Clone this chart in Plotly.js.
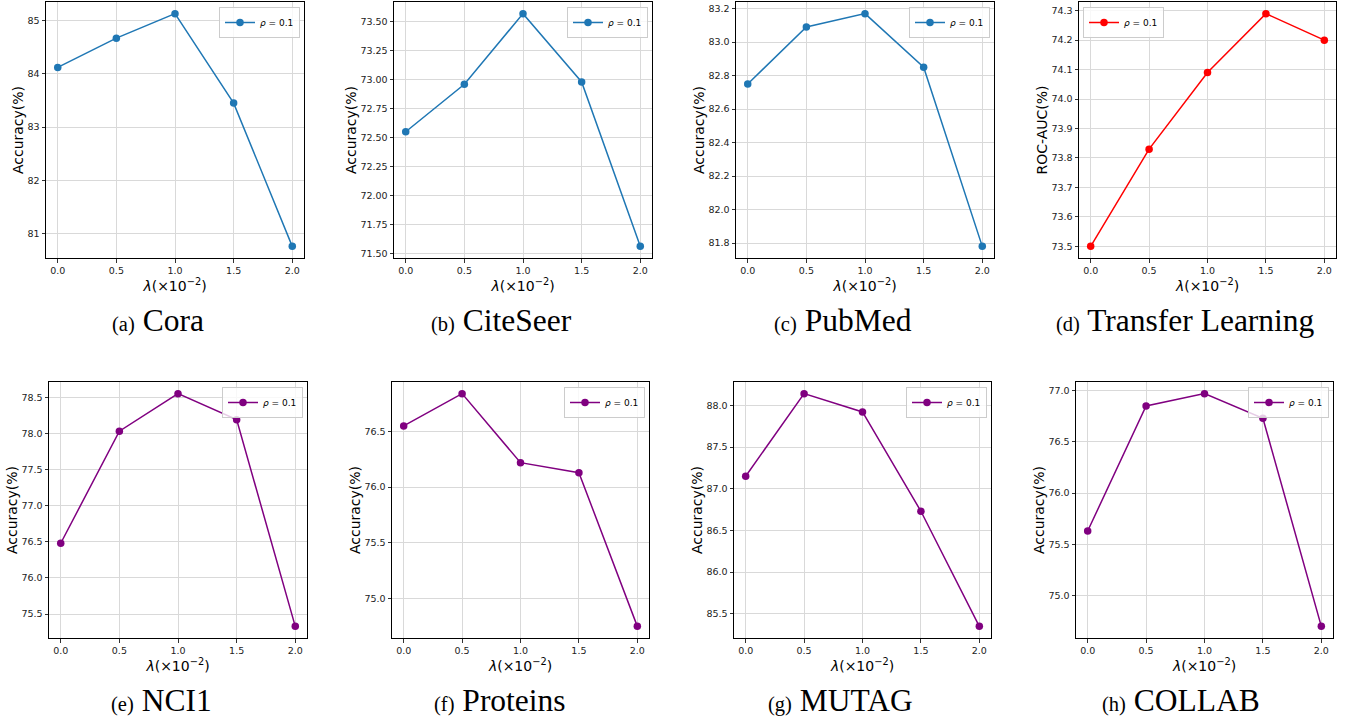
<!DOCTYPE html>
<html>
<head>
<meta charset="utf-8">
<script src="https://cdn.plot.ly/plotly-3.0.1.min.js"></script>
<style>html,body{margin:0;padding:0;background:#fff;}#chart{width:1347px;height:719px;}</style>
</head>
<body>
<div id="chart"></div>
<script>
// ---- data ----
const lambdaValues = [0.0, 0.5, 1.0, 1.5, 2.0];
const coraAcc      = [84.12, 84.67, 85.13, 83.45, 80.76];
const citeseerAcc  = [72.55, 72.96, 73.57, 72.98, 71.56];
const pubmedAcc    = [82.75, 83.09, 83.17, 82.85, 81.78];
const transferAuc  = [73.50, 73.83, 74.09, 74.29, 74.20];
const nci1Acc      = [76.48, 78.03, 78.55, 78.19, 75.33];
const proteinsAcc  = [76.55, 76.84, 76.22, 76.13, 74.75];
const mutagAcc     = [87.15, 88.14, 87.92, 86.73, 85.35];
const collabAcc    = [75.63, 76.85, 76.97, 76.73, 74.70];
const panelNames   = ["Cora", "CiteSeer", "PubMed", "Transfer Learning", "NCI1", "Proteins", "MUTAG", "COLLAB"];
const panelLetters = ["(a)", "(b)", "(c)", "(d)", "(e)", "(f)", "(g)", "(h)"];
const yLabels      = ["Accuracy(%)", "Accuracy(%)", "Accuracy(%)", "ROC-AUC(%)", "Accuracy(%)", "Accuracy(%)", "Accuracy(%)", "Accuracy(%)"];
const seriesName   = "<i>ρ</i> = 0.1";
const xTickVals    = [0.0, 0.5, 1.0, 1.5, 2.0];
const xTickText    = ["0.0", "0.5", "1.0", "1.5", "2.0"];
const yTicks = [
  {vals: [81, 82, 83, 84, 85], fmt: ".0f"},
  {vals: [71.5, 71.75, 72.0, 72.25, 72.5, 72.75, 73.0, 73.25, 73.5], fmt: ".2f"},
  {vals: [81.8, 82.0, 82.2, 82.4, 82.6, 82.8, 83.0, 83.2], fmt: ".1f"},
  {vals: [73.5, 73.6, 73.7, 73.8, 73.9, 74.0, 74.1, 74.2, 74.3], fmt: ".1f"},
  {vals: [75.5, 76.0, 76.5, 77.0, 77.5, 78.0, 78.5], fmt: ".1f"},
  {vals: [75.0, 75.5, 76.0, 76.5], fmt: ".1f"},
  {vals: [85.5, 86.0, 86.5, 87.0, 87.5, 88.0], fmt: ".1f"},
  {vals: [75.0, 75.5, 76.0, 76.5, 77.0], fmt: ".1f"}
];
const allSeries = [coraAcc, citeseerAcc, pubmedAcc, transferAuc, nci1Acc, proteinsAcc, mutagAcc, collabAcc];
const colors = ["#1f77b4", "#1f77b4", "#1f77b4", "#ff0000", "#800080", "#800080", "#800080", "#800080"];

// ---- layout geometry (pixels) ----
const W = 1347, H = 719;
const boxes = [
  [46, 304, 2, 258], [394, 652, 2, 258], [736, 994, 2, 258], [1079, 1336, 2, 258],
  [49, 307, 382, 638], [392, 649, 382, 638], [734, 991, 382, 638], [1076, 1333, 382, 638]
];
const captionX = [158, 501, 843, 1185, 161, 500, 840, 1181];
const captionY = [320, 320, 320, 320, 700, 700, 700, 700];

const traces = [];
const layout = {
  width: W, height: H,
  margin: {l: 0, r: 0, t: 0, b: 0},
  paper_bgcolor: "#fff", plot_bgcolor: "#fff",
  showlegend: true,
  font: {family: "DejaVu Sans, sans-serif", color: "#222"},
  annotations: []
};

function pad(arr, frac) {
  const mn = Math.min(...arr), mx = Math.max(...arr);
  const d = (mx - mn) * frac;
  return [mn - d, mx + d];
}

for (let i = 0; i < 8; i++) {
  const n = i + 1;
  const xa = n === 1 ? "x" : "x" + n;
  const ya = n === 1 ? "y" : "y" + n;
  const lg = n === 1 ? "legend" : "legend" + n;
  traces.push({
    x: lambdaValues, y: allSeries[i],
    xaxis: xa, yaxis: ya,
    type: "scatter", mode: "lines+markers",
    name: seriesName, legend: lg,
    line: {color: colors[i], width: 1.5},
    marker: {color: colors[i], size: 7.5}
  });
  const b = boxes[i];
  const axCommon = {
    showline: true, linecolor: "#000", linewidth: 1, mirror: true,
    ticks: "outside", ticklen: 3.5, tickcolor: "#000", tickwidth: 0.8,
    showgrid: true, gridcolor: "#d9d9d9", gridwidth: 1,
    zeroline: false,
    tickfont: {family: "DejaVu Sans, sans-serif", size: 9.5, color: "#222"}
  };
  layout["xaxis" + (n === 1 ? "" : n)] = Object.assign({}, axCommon, {
    domain: [b[0] / W, b[1] / W],
    anchor: ya,
    range: [-0.1, 2.1],
    tickvals: xTickVals, ticktext: xTickText,
    title: {text: "<i>λ</i>(×10<sup>−2</sup>)", font: {family: "DejaVu Sans, sans-serif", size: 14, color: "#000"}, standoff: 4}
  });
  layout["yaxis" + (n === 1 ? "" : n)] = Object.assign({}, axCommon, {
    domain: [1 - b[3] / H, 1 - b[2] / H],
    anchor: xa,
    range: pad(allSeries[i], 0.05),
    tickvals: yTicks[i].vals, tickformat: yTicks[i].fmt,
    title: {text: yLabels[i], font: {family: "DejaVu Sans, sans-serif", size: 14, color: "#000"}, standoff: 0}
  });
  const leftLegend = (i === 3);
  layout[lg] = {
    x: leftLegend ? (b[0] + 4) / W : (b[1] - 4) / W,
    xanchor: leftLegend ? "left" : "right",
    y: 1 - (b[2] + 5) / H, yanchor: "top",
    bgcolor: "rgba(255,255,255,0.8)", bordercolor: "#cccccc", borderwidth: 1,
    font: {family: "DejaVu Sans, sans-serif", size: 9, color: "#000"},
    itemwidth: 30, tracegroupgap: 0
  };
  layout.annotations.push({
    xref: "paper", yref: "paper",
    x: captionX[i] / W, y: 1 - captionY[i] / H,
    xanchor: "center", yanchor: "middle",
    showarrow: false,
    text: "<span style='font-size:20.5px'>" + panelLetters[i] + "</span> " + panelNames[i],
    font: {family: "Liberation Serif, Times New Roman, serif", size: 31.5, color: "#000"}
  });
}

Plotly.newPlot("chart", traces, layout, {staticPlot: true, displayModeBar: false});
</script>
</body>
</html>
